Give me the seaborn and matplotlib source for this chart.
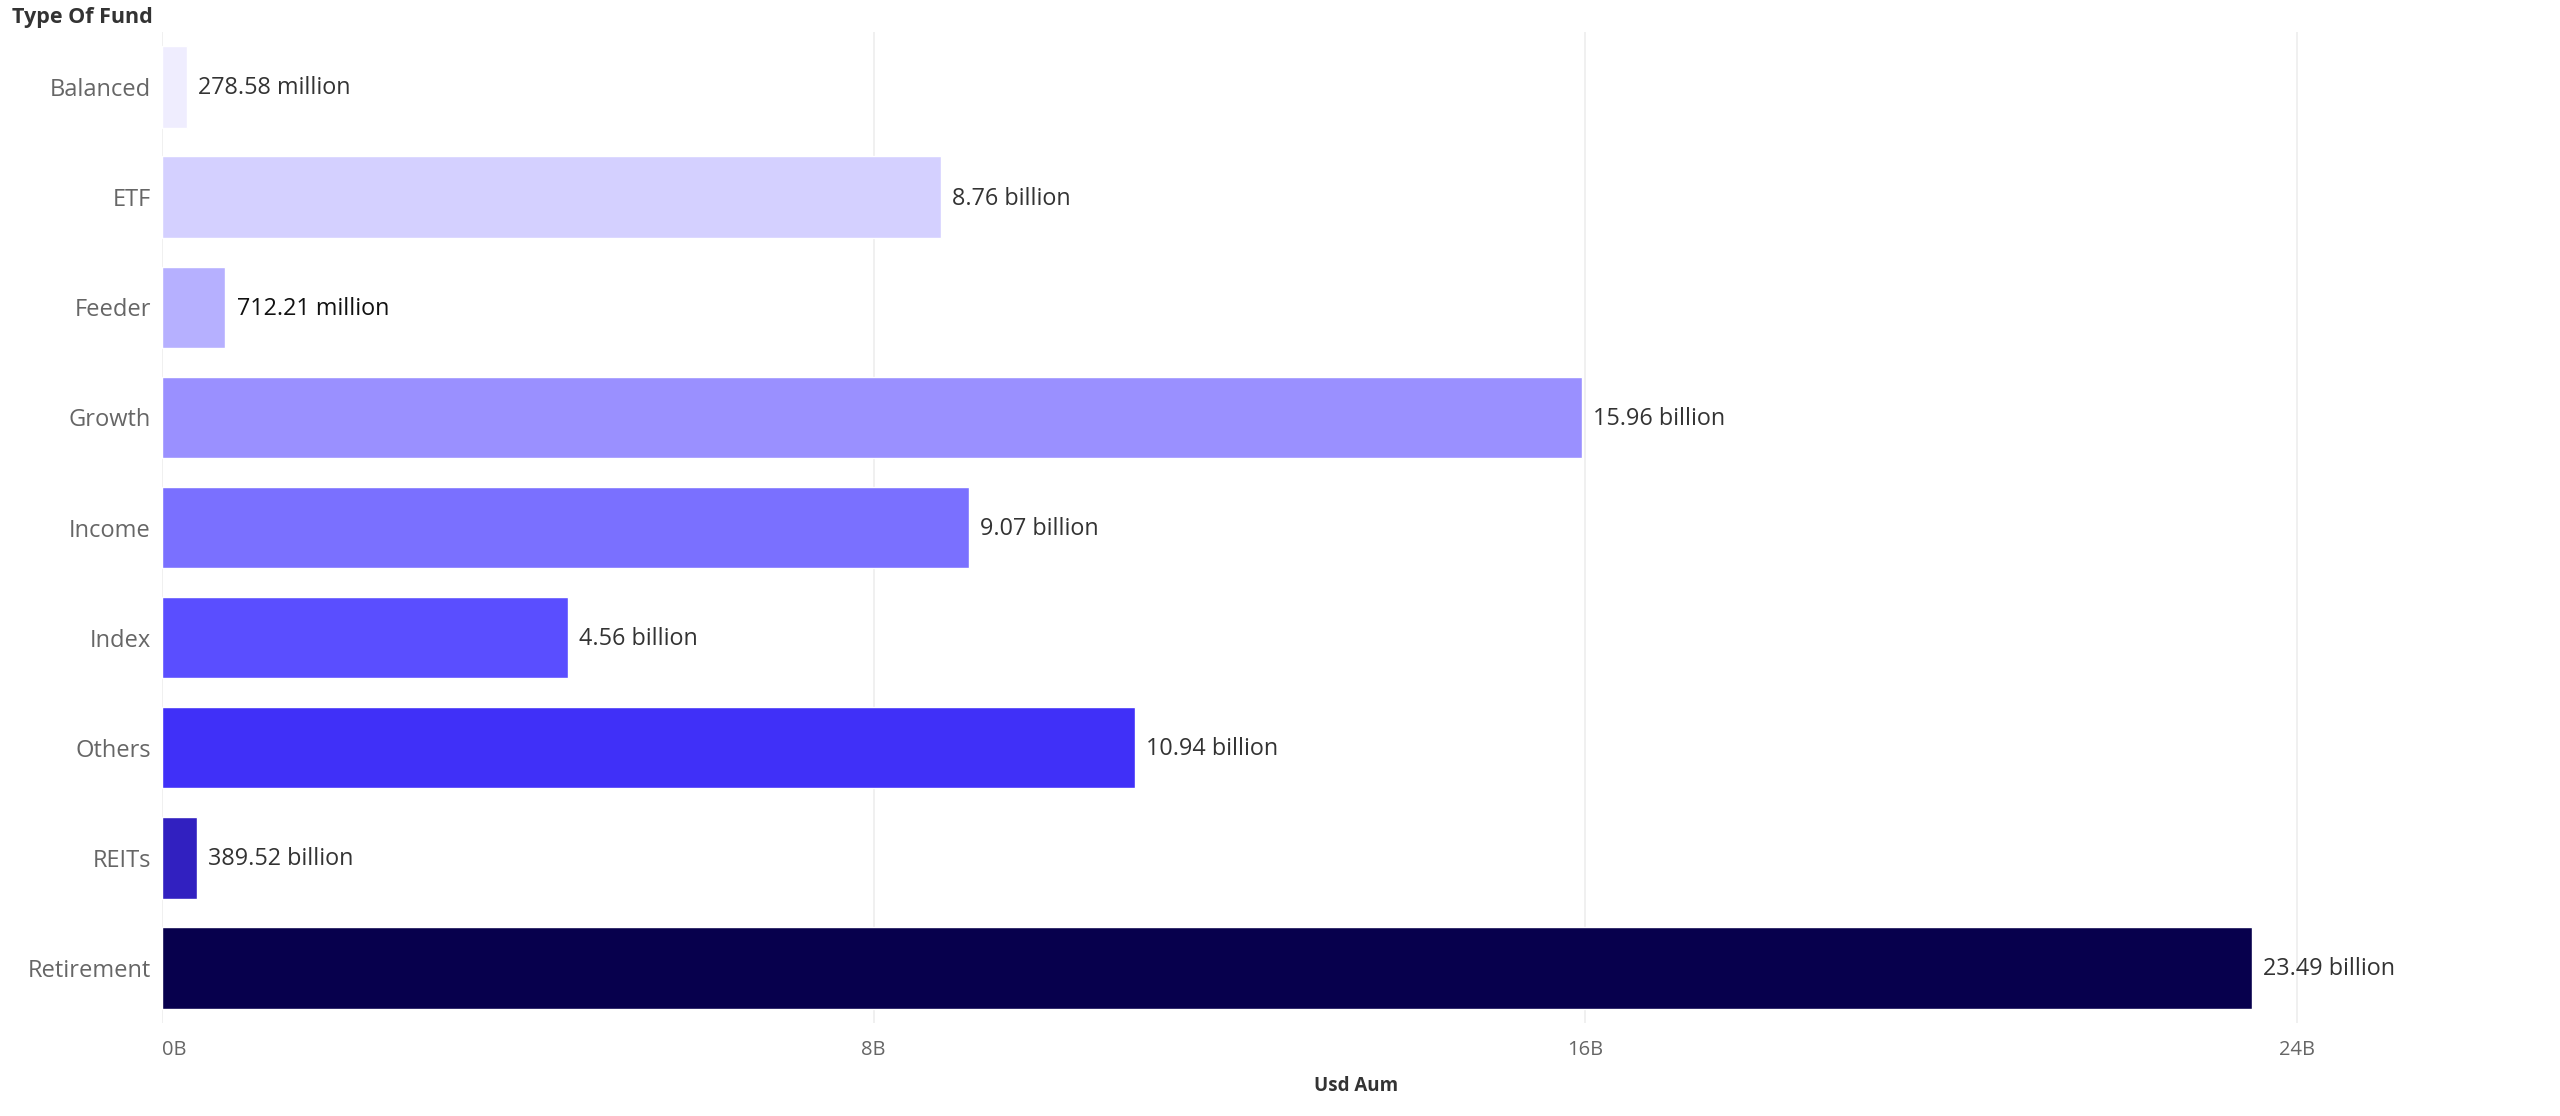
import pandas as pd
import seaborn as sns
import matplotlib.pyplot as plt

funds = ['Balanced', 'ETF', 'Feeder', 'Growth', 'Income', 'Index', 'Others', 'REITs', 'Retirement']
usd_aum = [278.58e6, 8.76e9, 712.21e6, 15.96e9, 9.07e9, 4.56e9, 10.94e9, 389.52e6, 23.49e9]
value_labels = ['278.58 million', '8.76 billion', '712.21 million', '15.96 billion', '9.07 billion',
                '4.56 billion', '10.94 billion', '389.52 billion', '23.49 billion']
bar_colors = ['#EFEDFE', '#D4D0FF', '#B6B0FF', '#9A90FF', '#7A70FF', '#5A4EFF', '#4030F8', '#3120C0', '#07004D']
x_ticks = [0, 8e9, 16e9, 24e9]
x_tick_labels = ['0B', '8B', '16B', '24B']

df = pd.DataFrame({'Type Of Fund': funds, 'Usd Aum': usd_aum})

sns.set_theme(style='white')
plt.rcParams['font.family'] = ['Open Sans', 'DejaVu Sans']

fig = plt.figure(figsize=(25.6, 11.16), dpi=100)
ax = fig.add_axes([0.0633, 0.0833, 0.9327, 0.888])

sns.barplot(data=df, x='Usd Aum', y='Type Of Fund', hue='Type Of Fund',
            palette=dict(zip(funds, bar_colors)), width=0.74, legend=False,
            saturation=1, ax=ax, zorder=2)

for i, (v, lab) in enumerate(zip(usd_aum, value_labels)):
    col = '#111111' if funds[i] == 'Feeder' else '#333333'
    ax.annotate(lab, xy=(v, i), xytext=(8, -1), textcoords='offset points',
                va='center', ha='left', fontsize=16.8, color=col)

ax.set_xlim(0, 26.84e9)
ax.set_ylim(8.5, -0.5)
ax.set_xticks(x_ticks)
ax.set_xticklabels(x_tick_labels, fontsize=14.5, color='#666666')
ax.tick_params(axis='x', length=0, pad=12)
ax.tick_params(axis='y', length=0, pad=8, labelsize=17, labelcolor='#666666')
ax.get_xticklabels()[0].set_horizontalalignment('left')
ax.grid(axis='x', color='#EEEEEE', linewidth=1.2, zorder=0)
ax.grid(axis='y', visible=False)
for s in ax.spines.values():
    s.set_visible(False)

ax.set_ylabel('')
ax.set_xlabel('Usd Aum', fontsize=13.5, fontweight='bold', color='#333333', labelpad=12)
fig.text(0.0047, 0.984, 'Type Of Fund', fontsize=15.5, fontweight='bold', color='#333333',
         ha='left', va='center')

fig.savefig('out.png', dpi=100)
